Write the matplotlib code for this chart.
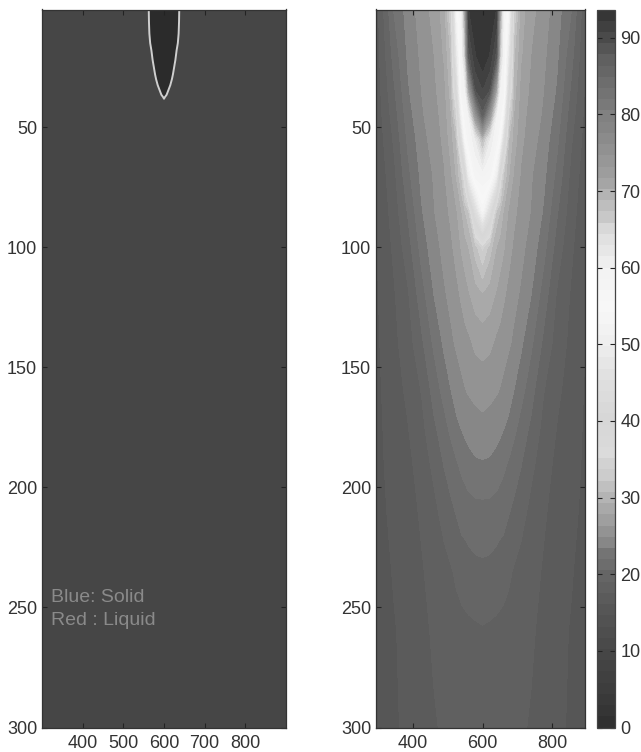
import numpy as np
from matplotlib import pyplot as plt
from matplotlib.colors import LinearSegmentedColormap

plt.rcParams['font.family'] = ['Liberation Sans', 'DejaVu Sans']

# depth rows of the right hand field
depths = [1, 20, 35, 45, 55, 70, 85, 100, 120, 140, 160, 175, 190, 210, 235, 260, 300]
# distance from the x=600 centre line, field is mirrored around it
offsets = [0, 20, 40, 50, 60, 75, 90, 110, 140, 175, 215, 255, 306]

# one column of values per offset
col_0 = [93.5, 93.5, 90.5, 87, 68, 58.7, 53, 34, 29, 26.9, 25.4, 24.5, 23.3, 21.5, 20.2, 18.9, 18.1]
col_20 = [93.5, 92, 89, 74, 61.5, 58, 44, 31.5, 28.5, 26.7, 25.2, 24.4, 23.2, 21.5, 20.1, 18.8, 18]
col_40 = [92, 88.5, 70, 59.6, 58, 50, 31.8, 29.2, 27.6, 26, 25, 24, 22.9, 21.3, 19.9, 18.7, 18]
col_50 = [72, 66.4, 59.4, 58, 54.4, 37.8, 30.7, 28.6, 27.1, 25.8, 24.8, 23.8, 22.6, 21.1, 19.8, 18.6, 18]
col_60 = [59.3, 58.7, 58.2, 52, 43.4, 32.3, 29.2, 28, 26.6, 25.5, 24.5, 23.5, 22.3, 21, 19.7, 18.5, 17.9]
col_75 = [53, 47, 40, 34, 30.8, 29.4, 27.6, 26.9, 25.9, 25.1, 24, 23.1, 21.8, 20.6, 19.3, 18.4, 17.9]
col_90 = [34, 31, 30, 29.2, 28.6, 27.6, 26.7, 26.1, 25.3, 24.6, 23.4, 22.4, 21.2, 20.2, 18.9, 18.3, 17.9]
col_110 = [28.5, 28, 27.3, 27, 26.7, 26.2, 25.8, 25.3, 24.7, 23.7, 22.5, 21.4, 20.6, 19.6, 18.5, 18.1, 17.8]
col_140 = [26.8, 26.3, 26, 25.7, 25.5, 25, 24.8, 24.3, 23.4, 22.2, 21, 20.2, 19.4, 18.6, 18.2, 17.8, 17.4]
col_175 = [25.6, 25.2, 24.9, 24.7, 24.3, 23.8, 23.3, 22.5, 21.3, 20.2, 19.1, 18.6, 18.2, 17.8, 17.4, 17.1, 17]
col_215 = [24, 23.6, 23.2, 22.7, 22.2, 21.5, 20.6, 19.8, 18.8, 18.3, 17.8, 17.5, 17.2, 16.9, 16.7, 16.5, 16.4]
col_255 = [22, 21, 20.2, 19.7, 19.2, 18.6, 18.2, 17.8, 17.4, 17.2, 17, 16.9, 16.7, 16.5, 16.2, 16, 15.9]
col_306 = [16.8, 16.7, 16.6, 16.5, 16.4, 16.2, 16, 16, 15.9, 15.8, 15.7, 15.6, 15.6, 15.5, 15.4, 15.2, 15]

# the solid core in the left panel
core_depths = [1, 6, 11, 15, 18, 22, 25, 28, 30, 32.5, 34.5, 36.5, 38]
core_half_widths = [37.5, 37, 36, 34, 31, 28, 25, 22, 19.5, 15.5, 11, 6.5, 0]

# grey level of the colorbar at a few values
bar_values = [0, 5, 10, 15, 20, 22, 24, 27, 30, 33, 36, 40, 46, 50, 55, 60, 64, 67, 70, 72, 75, 80, 85, 88, 90, 93.7]
bar_greys = [.18, .24, .28, .33, .40, .44, .52, .62, .70, .80, .86, .84, .88, .93, .97, .95, .88, .78, .70, .62, .58, .50, .42, .36, .30, .20]

W, H = 641, 752
TEXT = '#333333'
FONT = 13


def place(left, right):
    return [left / W, 1 - 727.5 / H, (right - left) / W, 718 / H]


def style(ax, xticks):
    ax.set_ylim(300, 1)
    ax.set_xticks(xticks)
    ax.set_yticks([50, 100, 150, 200, 250, 300])
    ax.tick_params(direction='in', length=3.5, width=0.8, top=True, right=True,
                   labelsize=FONT, labelcolor=TEXT, color='#222222')
    ax.tick_params(axis='y', pad=3.5)
    ax.tick_params(axis='x', pad=5.5)
    for spine in ax.spines.values():
        spine.set_color('#333333')
        spine.set_linewidth(0.9)


cmap = LinearSegmentedColormap.from_list(
    'grey_jet',
    [(v / bar_values[-1], (g, g, g)) for v, g in zip(bar_values, bar_greys)],
    N=256,
)

fig = plt.figure(figsize=(W / 100, H / 100), dpi=100)

# left panel
ax_left = fig.add_axes(place(42, 286))
ax_left.set_facecolor('#464646')
core_left = [600 - w for w in core_half_widths]
core_right = [600 + w for w in core_half_widths]
ax_left.fill_betweenx(core_depths, core_left, core_right, color='#2b2b2b', lw=0)
ax_left.plot(core_left, core_depths, color='#cfcfcf', lw=1.4)
ax_left.plot(core_right, core_depths, color='#cfcfcf', lw=1.4)
ax_left.set_xlim(300, 900)
style(ax_left, [400, 500, 600, 700, 800])
ax_left.text(323, 246, 'Blue: Solid', color='#8a8a8a', fontsize=14, va='center')
ax_left.text(323, 255.5, 'Red : Liquid', color='#8a8a8a', fontsize=14, va='center')

# right panel, mirror the table around the centre line
half = np.array([col_0, col_20, col_40, col_50, col_60, col_75, col_90,
                 col_110, col_140, col_175, col_215, col_255, col_306]).T
field = np.hstack([half[:, :0:-1], half])
x = np.concatenate([600 - np.array(offsets[:0:-1]), 600 + np.array(offsets)])

ax_right = fig.add_axes(place(376, 584.5))
levels = np.linspace(0, bar_values[-1], 65)
cf = ax_right.contourf(x, depths, field, levels=levels, cmap=cmap)
ax_right.set_xlim(294, 893)
style(ax_right, [400, 600, 800])

# colorbar
cax = fig.add_axes(place(597, 615))
cb = fig.colorbar(cf, cax=cax)
cb.set_ticks(list(range(0, 100, 10)))
cax.set_ylim(0, bar_values[-1])
cax.tick_params(direction='in', length=3.5, width=0.8, left=True, right=True,
                labelsize=FONT, labelcolor=TEXT, color='#222222', pad=4)
cb.outline.set_edgecolor('#444444')
cb.outline.set_linewidth(0.9)

fig.savefig('out.png', dpi=100)
